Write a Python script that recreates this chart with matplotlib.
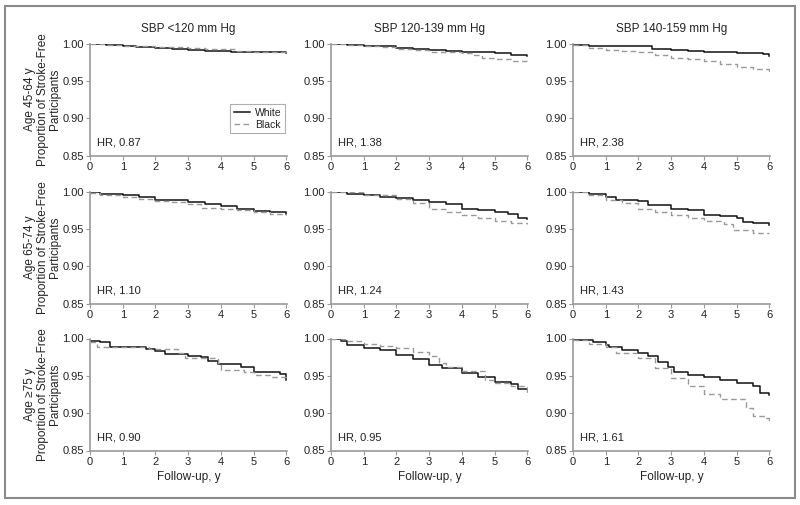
import matplotlib
matplotlib.use("Agg")
import matplotlib.pyplot as plt
from matplotlib.patches import Rectangle
from matplotlib.lines import Line2D
from matplotlib import font_manager

names = {f.name for f in font_manager.fontManager.ttflist}
FONT = "Liberation Sans Narrow" if "Liberation Sans Narrow" in names else "Liberation Sans"
plt.rcParams['font.family'] = [FONT, 'DejaVu Sans']

col_titles = ["SBP <120 mm Hg", "SBP 120-139 mm Hg", "SBP 140-159 mm Hg"]
row_labels = ["Age 45-64 y", "Age 65-74 y", "Age \u226575 y"]
hr_labels = [["HR, 0.87", "HR, 1.38", "HR, 2.38"],
             ["HR, 1.10", "HR, 1.24", "HR, 1.43"],
             ["HR, 0.90", "HR, 0.95", "HR, 1.61"]]
x_ticks = [0, 1, 2, 3, 4, 5, 6]
y_ticks = [0.85, 0.90, 0.95, 1.00]

# Kaplan-Meier step data (time, survival) per panel [row][col]
white_t = [
    [[0, 0.5, 1, 1.4, 2, 2.5, 3, 3.5, 4.3, 5, 5.5, 6],
     [0, 0.5, 1, 1.5, 2, 2.5, 3, 3.5, 4, 4.5, 5, 5.5, 6],
     [0, 0.5, 2.4, 3, 3.5, 4, 5, 5.8, 6]],
    [[0, 0.3, 0.7, 1, 1.5, 2, 2.5, 3, 3.5, 4, 4.5, 5, 5.5, 6],
     [0, 0.5, 1, 1.5, 2, 2.5, 3, 3.5, 4, 4.5, 5, 5.4, 5.7, 6],
     [0, 0.5, 1, 1.3, 2, 2.3, 3, 3.5, 4, 4.5, 5, 5.2, 5.5, 6]],
    [[0, 0.3, 0.6, 1.5, 1.7, 2, 2.3, 3, 3.4, 3.6, 3.9, 4.6, 5, 5.8, 6],
     [0, 0.3, 0.5, 1, 1.5, 2, 2.5, 3, 3.4, 4, 4.5, 5, 5.5, 5.7, 6],
     [0, 0.6, 1, 1.1, 1.5, 2, 2.3, 2.6, 2.9, 3.1, 3.5, 4, 4.5, 5, 5.5, 5.7, 6]],
]
white_s = [
    [[0.999, 0.998, 0.997, 0.995, 0.994, 0.992, 0.991, 0.990, 0.989, 0.988, 0.988, 0.987],
     [0.999, 0.998, 0.997, 0.996, 0.994, 0.993, 0.991, 0.990, 0.989, 0.988, 0.987, 0.985, 0.983],
     [0.998, 0.996, 0.993, 0.991, 0.990, 0.989, 0.987, 0.986, 0.983]],
    [[0.999, 0.997, 0.996, 0.995, 0.993, 0.989, 0.988, 0.986, 0.983, 0.980, 0.977, 0.974, 0.972, 0.970],
     [0.999, 0.997, 0.995, 0.993, 0.991, 0.989, 0.986, 0.983, 0.977, 0.975, 0.973, 0.970, 0.965, 0.963],
     [0.999, 0.996, 0.992, 0.989, 0.987, 0.982, 0.976, 0.975, 0.969, 0.967, 0.965, 0.959, 0.958, 0.955]],
    [[0.997, 0.995, 0.988, 0.988, 0.986, 0.983, 0.979, 0.977, 0.975, 0.970, 0.966, 0.962, 0.955, 0.953, 0.945],
     [0.999, 0.996, 0.991, 0.987, 0.984, 0.978, 0.972, 0.965, 0.960, 0.954, 0.949, 0.942, 0.939, 0.933, 0.932],
     [0.998, 0.995, 0.991, 0.988, 0.985, 0.981, 0.976, 0.968, 0.962, 0.955, 0.951, 0.949, 0.944, 0.941, 0.937, 0.927, 0.925]],
]
black_t = [
    [[0, 0.5, 1, 1.5, 2, 3, 3.5, 4, 4.5, 5, 6],
     [0, 0.5, 1, 1.5, 2, 2.5, 3, 3.5, 4, 4.3, 4.6, 5, 5.5, 6],
     [0, 0.5, 1, 1.5, 2, 2.5, 3, 3.5, 4, 4.5, 5, 5.5, 6]],
    [[0, 0.3, 1, 1.5, 2, 2.5, 3, 3.4, 4, 4.5, 5, 5.5, 6],
     [0, 1, 2, 2.5, 3, 3.5, 4, 4.5, 5, 5.5, 6],
     [0, 0.5, 1, 1.5, 2, 2.5, 3, 3.5, 4, 4.6, 4.9, 5.5, 6]],
    [[0, 0.2, 1.5, 1.8, 2.7, 2.9, 3.5, 3.9, 4.0, 4.7, 5, 5.5, 6],
     [0, 0.5, 1, 1.5, 2, 2.5, 3, 3.3, 3.5, 4, 4.7, 5, 5.5, 6],
     [0, 0.5, 1, 1.3, 2, 2.5, 3, 3.5, 4, 4.5, 5.3, 5.5, 5.9, 6]],
]
black_s = [
    [[0.999, 0.998, 0.997, 0.996, 0.995, 0.994, 0.993, 0.992, 0.990, 0.989, 0.988],
     [0.999, 0.998, 0.997, 0.995, 0.993, 0.991, 0.989, 0.988, 0.987, 0.984, 0.981, 0.979, 0.977, 0.976],
     [0.998, 0.994, 0.991, 0.990, 0.988, 0.984, 0.981, 0.979, 0.976, 0.972, 0.969, 0.966, 0.961]],
    [[0.998, 0.995, 0.993, 0.990, 0.987, 0.986, 0.983, 0.978, 0.977, 0.975, 0.972, 0.970, 0.968],
     [0.999, 0.995, 0.990, 0.984, 0.977, 0.973, 0.968, 0.965, 0.961, 0.958, 0.956],
     [0.999, 0.995, 0.989, 0.984, 0.977, 0.973, 0.969, 0.965, 0.961, 0.957, 0.948, 0.945, 0.944]],
    [[0.995, 0.989, 0.988, 0.986, 0.981, 0.974, 0.974, 0.967, 0.958, 0.955, 0.951, 0.949, 0.946],
     [0.999, 0.997, 0.992, 0.990, 0.987, 0.982, 0.976, 0.967, 0.962, 0.956, 0.945, 0.940, 0.936, 0.927],
     [0.998, 0.993, 0.988, 0.980, 0.974, 0.960, 0.947, 0.936, 0.926, 0.919, 0.907, 0.896, 0.894, 0.888]],
]

W, H = 800, 505
fig = plt.figure(figsize=(W / 100, H / 100), dpi=100)

# outer frame
fig.patches.append(Rectangle((5 / W, 7 / H), 790 / W, 492 / H, transform=fig.transFigure,
                             fill=False, edgecolor='#8a8a8a', linewidth=1.5))

col_left = [90, 331, 573]
ax_w = 197
row_top = [43.5, 191.5, 338.5]
ax_h = 112
spine_c = '#9a9a9a'
txt_c = '#222222'

for r in range(3):
    for c in range(3):
        ax = fig.add_axes([col_left[c] / W, 1 - (row_top[r] + ax_h) / H, ax_w / W, ax_h / H])
        ax.step(white_t[r][c], white_s[r][c], where='post', color='#111111', lw=1.1, label='White')
        ax.step(black_t[r][c], black_s[r][c], where='post', color='#999999', lw=1.0,
                ls=(0, (4, 2.5)), label='Black')
        ax.set_xlim(0, 6.02)
        ax.set_ylim(0.85, 1.0)
        ax.set_xticks(x_ticks)
        ax.set_yticks(y_ticks)
        ax.set_yticklabels([f"{v:.2f}" for v in y_ticks])
        for s in ['top', 'right']:
            ax.spines[s].set_visible(False)
        for s in ['left', 'bottom']:
            ax.spines[s].set_color(spine_c)
            ax.spines[s].set_linewidth(1.2)
        ax.tick_params(direction='out', length=3, width=0.8, color=spine_c,
                       labelsize=8, labelcolor=txt_c, pad=1.5)
        ax.text(0.035, 0.075, hr_labels[r][c], transform=ax.transAxes, fontsize=8,
                color=txt_c, va='bottom', ha='left')
        if r == 0:
            ax.text(0.5, 1.08, col_titles[c], transform=ax.transAxes, ha='center',
                    va='bottom', fontsize=8.5, color=txt_c)
        if r == 2:
            ax.set_xlabel("Follow-up, y", fontsize=8.5, color=txt_c, labelpad=3)
        if r == 0 and c == 0:
            handles = [Line2D([], [], color='#111111', lw=1.1),
                       Line2D([], [], color='#999999', lw=1.0, ls=(0, (4, 2.5)))]
            leg = ax.legend(handles, ['White', 'Black'], loc='lower right',
                            bbox_to_anchor=(1.0, 0.18), fontsize=7.5, frameon=True,
                            fancybox=False, handlelength=1.6, handletextpad=0.4,
                            borderpad=0.35, labelspacing=0.2, borderaxespad=0.2)
            leg.get_frame().set_edgecolor('#9a9a9a')
            leg.get_frame().set_linewidth(0.8)
            for t in leg.get_texts():
                t.set_color(txt_c)
    yc = 1 - (row_top[r] + ax_h / 2) / H
    fig.text(30 / W, yc, row_labels[r], rotation=90, ha='center', va='center',
             fontsize=8.5, color=txt_c)
    fig.text(43 / W, yc, "Proportion of Stroke-Free", rotation=90,
             ha='center', va='center', fontsize=8.5, color=txt_c)
    fig.text(55 / W, yc, "Participants", rotation=90,
             ha='center', va='center', fontsize=8.5, color=txt_c)

fig.savefig("out.png", dpi=100)
